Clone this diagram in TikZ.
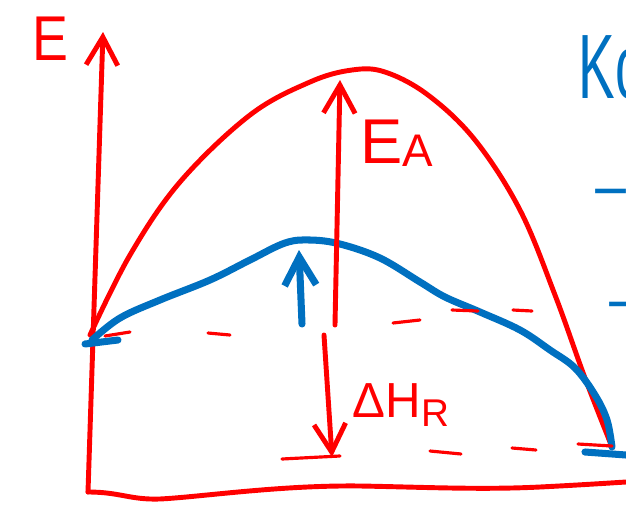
\documentclass[tikz,border=0pt]{standalone}
\usepackage{fontspec}
\setmainfont{Liberation Sans}
\usetikzlibrary{arrows.meta}
\definecolor{C1}{RGB}{255,0,0}
\definecolor{C2}{RGB}{0,112,192}

\begin{document}
\begin{tikzpicture}[x=0.01cm,y=-0.01cm,
      redline/.style={draw=C1,line width=1.4pt,line cap=round,line join=round},
      blueline/.style={draw=C2,line width=2pt,line cap=round,line join=round},
      dashline/.style={draw=C1,line width=0.9pt,line cap=round},
      tip/.style={-{Straight Barb[length=8pt,width=9pt]}},
      lbl/.style={inner sep=0pt,anchor=base west}]
    \useasboundingbox (0,0) rectangle (626,508);
    \coordinate (origin) at (88,492);
    \coordinate (ytop) at (103,32);
    \coordinate (react) at (90,335);
    \coordinate (prod) at (612,447);
    \coordinate (eafoot) at (335,325);
    \coordinate (eatop) at (340,80);
    \coordinate (dhtop) at (324,335);
    \coordinate (dhfoot) at (332,457);
    \coordinate (catfoot) at (302,324);
    \coordinate (cattop) at (299,250);
    % axes
    \draw[redline,tip] (origin) -- (ytop);
    \draw[redline] (origin) .. controls (120,492) and (130,500) .. (160,499)
      .. controls (200,497) and (280,485) .. (360,486)
      .. controls (420,487) and (480,490) .. (540,487)
      .. controls (580,485) and (610,483) .. (626,482);
    \node[lbl,text=C1,font=\fontsize{18}{18}\selectfont,xscale=0.85] (elbl) at (32,60) {E};
    % uncatalysed path
    \draw[redline] plot[smooth,tension=0.6] coordinates {(react) (130,255) (180,182)
      (250,115) (310,82) (352,70) (385,72) (428,95) (475,140) (520,210)
      (555,295) (585,378) (prod)};
    % catalysed path
    \draw[blueline] plot[smooth,tension=0.6] coordinates {(92,340) (120,318) (160,300)
      (210,280) (250,260) (285,243) (310,240) (340,244) (380,258) (420,282)
      (445,297) (480,312) (520,330) (550,350) (575,368) (595,395) (607,420) (prod)};
    \draw[blueline] (85,344) -- (118,340);
    \draw[blueline] (585,452) -- (626,455);
    % levels
    \foreach \a/\b in {{105,336}/{130,332},{208,333}/{230,335},{393,323}/{420,320},
                       {452,310}/{478,311},{513,310}/{532,311},{430,451}/{461,454},
                       {512,448}/{536,450},{578,444}/{612,446}}
      \draw[dashline] (\a) -- (\b);
    \draw[dashline] (282,459) -- (340,456);
    % energies
    \draw[redline,tip] (eafoot) -- (eatop);
    \draw[redline,tip] (dhtop) -- (dhfoot);
    \draw[blueline,tip] (catfoot) -- (cattop);
    \node[lbl,text=C1,font=\fontsize{18}{18}\selectfont] (ea) at (360,163)
      {E\raisebox{-1pt}{\fontsize{13}{13}\selectfont A}};
    \node[lbl,text=C1,font=\fontsize{14}{14}\selectfont] (dh) at (352,417)
      {ΔH\textsubscript{\fontsize{11}{11}\selectfont R}};
    \node[lbl,text=C2,font=\fontsize{26}{26}\selectfont,xscale=0.6] (kc) at (578,98) {Kc};
    \node[lbl,text=C2,font=\fontsize{18}{18}\selectfont] (dv) at (592,212) {−:};
    \node[lbl,text=C2,font=\fontsize{18}{18}\selectfont] (dw) at (606,325) {−};
\end{tikzpicture}
\end{document}
